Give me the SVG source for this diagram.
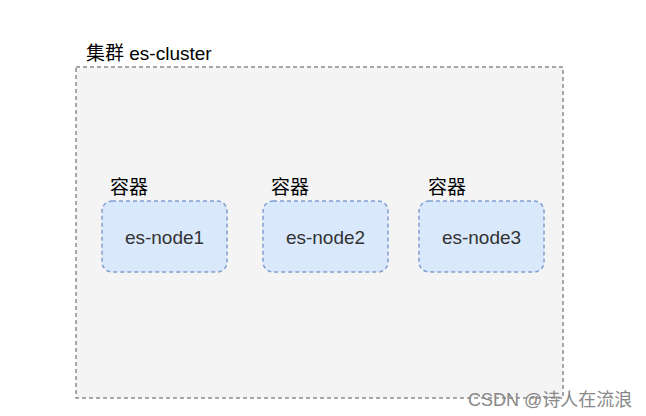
<svg xmlns="http://www.w3.org/2000/svg" width="646" height="416" viewBox="0 0 646 416">
<style>
.t{font-family:"Liberation Sans","Noto Sans CJK SC",sans-serif;font-size:19px;fill:#333}
.lbl{font-family:"Liberation Sans","Noto Sans CJK SC",sans-serif;font-size:19px;fill:#000}
.node rect{fill:#dae8fc;stroke:#7f9fcf;stroke-width:1.5;stroke-dasharray:4 3}
</style>
<rect width="646" height="416" fill="#fff"/>
<g id="cluster">
<rect x="76" y="67" width="487" height="331" fill="#f4f4f4" stroke="#8c8c8c" stroke-width="1.5" stroke-dasharray="4 3"/>
<text class="lbl" x="86" y="60">集群 es-cluster</text>
</g>
<g id="node1" class="node">
<rect x="102" y="201" width="125" height="71" rx="10"/>
<text class="lbl" x="110" y="194">容器</text>
<text class="t" x="164.5" y="244" text-anchor="middle">es-node1</text>
</g>
<g id="node2" class="node">
<rect x="263" y="201" width="125" height="71" rx="10"/>
<text class="lbl" x="271" y="194">容器</text>
<text class="t" x="325.5" y="244" text-anchor="middle">es-node2</text>
</g>
<g id="node3" class="node">
<rect x="419" y="201" width="125" height="71" rx="10"/>
<text class="lbl" x="428" y="194">容器</text>
<text class="t" x="481.5" y="244" text-anchor="middle">es-node3</text>
</g>
<g id="connectors"/>
<text x="468" y="406" font-family="Liberation Sans,'Noto Sans CJK SC',sans-serif" font-size="18" fill="#888">CSDN @诗人在流浪</text>
</svg>
